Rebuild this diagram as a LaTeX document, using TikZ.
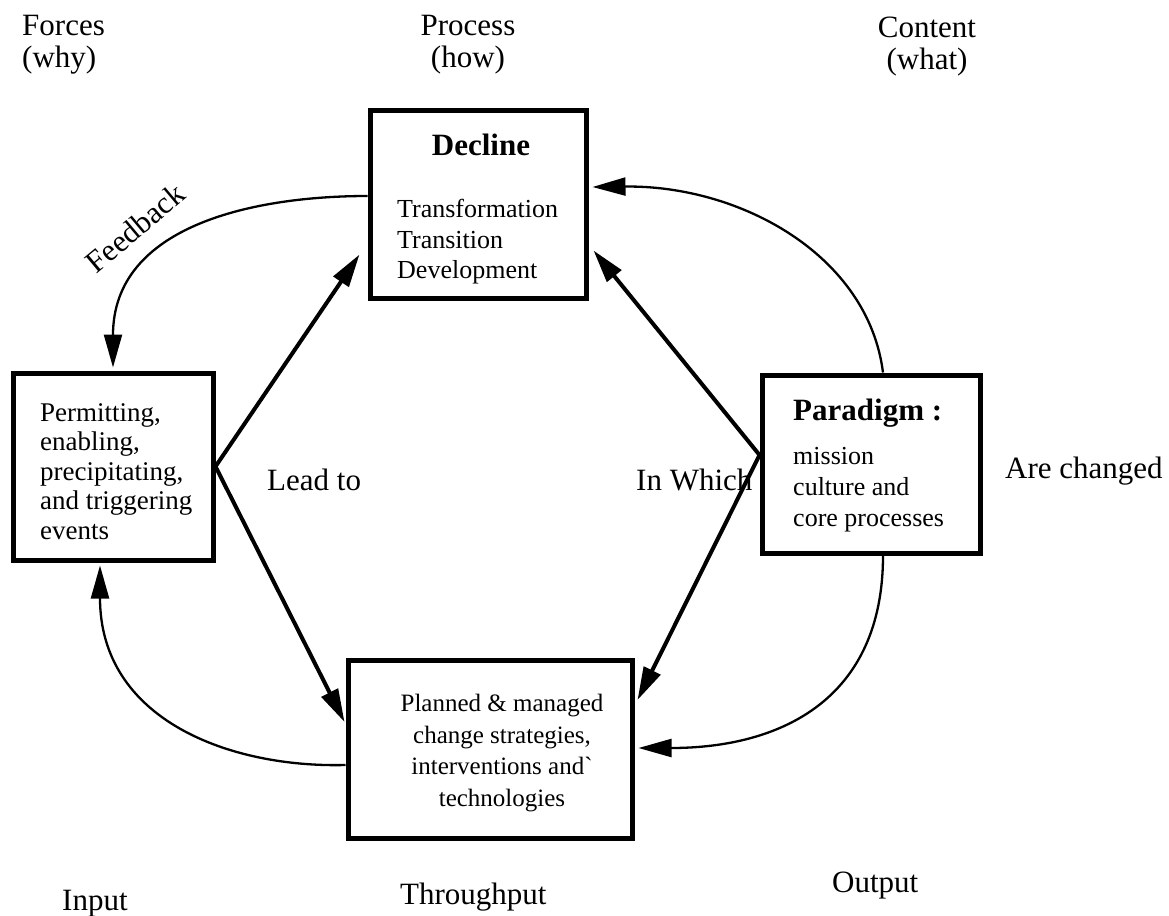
\documentclass[tikz,border=0pt]{standalone}
\usepackage{fontspec}
\setmainfont{Liberation Serif}
\usetikzlibrary{arrows.meta,calc}

\begin{document}
\begin{tikzpicture}[x=1pt,y=-1pt,
  box/.style={draw, line width=5pt, inner sep=0pt},
  boxtext/.style={inner sep=0pt, align=left},
  outertext/.style={inner sep=0pt, font=\fontsize{31}{32}\selectfont},
  mainarrow/.style={-{Triangle[length=33pt,width=18pt]}, line width=4pt},
  curvearrow/.style={-{Triangle[length=33pt,width=18pt]}, line width=2.3pt},
]
\useasboundingbox (0,0) rectangle (1169,915);

% boxes
\node[box, minimum width=216pt, minimum height=187pt] (decline) at (478,204.5) {};
\node[box, minimum width=200pt, minimum height=187pt] (events) at (113,466.5) {};
\node[box, minimum width=218pt, minimum height=178pt] (paradigm) at (871,464) {};
\node[box, minimum width=284pt, minimum height=178pt] (planned) at (490,749) {};

% box contents
\node[inner sep=0pt, anchor=north, font=\bfseries\fontsize{31}{36}\selectfont] (dtitle) at (481,134) {Decline};
\node[boxtext, anchor=north west, font=\fontsize{26}{30.5}\selectfont] (dlist) at (397,199) {Transformation\\Transition\\Development};
\node[boxtext, anchor=north west, font=\fontsize{27}{29.5}\selectfont] (elist) at (40,403) {Permitting,\\enabling,\\precipitating,\\and triggering\\events};
\node[inner sep=0pt, anchor=north west, font=\bfseries\fontsize{31}{36}\selectfont] (ptitle) at (793,399) {Paradigm :};
\node[boxtext, anchor=north west, font=\fontsize{26}{31}\selectfont] (plist) at (793,447) {mission\\culture and\\core processes};
\node[inner sep=0pt, align=center, anchor=north, font=\fontsize{25}{31.5}\selectfont] (mlist) at (502,694) {Planned \& managed\\change strategies,\\interventions and\textasciigrave\\technologies};

% column and row headings
\node[outertext, align=left, anchor=north west] (forces) at (22,15) {Forces\\(why)};
\node[outertext, align=center, anchor=north] (process) at (468,15) {Process\\(how)};
\node[outertext, align=center, anchor=north] (content) at (927,17) {Content\\(what)};
\node[outertext, anchor=north west] (input) at (62,890) {Input};
\node[outertext, anchor=north west] (throughput) at (400,883) {Throughput};
\node[outertext, anchor=north west] (output) at (832,872) {Output};

% connector labels
\node[outertext, anchor=base west] (leadto) at (267,490) {Lead to};
\node[outertext, anchor=base west] (inwhich) at (636,490) {In Which};
\node[outertext, anchor=base west] (arechanged) at (1005,478) {Are changed};
\node[outertext, rotate=40] (feedback) at (135,228) {Feedback};

% connector end points
\coordinate (apexL) at (events.east);
\coordinate (apexR) at ($(paradigm.west)+(0,-9)$);

% straight arrows
\draw[mainarrow] (apexL) -- ($(decline.west)+(-8,50)$);
\draw[mainarrow] (apexL) -- ($(planned.west)+(-1,-27)$);
\draw[mainarrow] (apexR) -- ($(decline.east)+(5,46)$);
\draw[mainarrow] (apexR) -- ($(planned.east)+(3,-49)$);

% curved feedback loops
\draw[curvearrow] ($(paradigm.north)+(12,0)$) .. controls (868,255) and (740,185) .. ($(decline.east)+(4,-17.5)$);
\draw[curvearrow] ($(paradigm.south)+(12,0)$) .. controls (883,700) and (780,748) .. ($(planned.east)+(4,-1)$);
\draw[curvearrow] ($(decline.west)+(0,-8.5)$) .. controls (255,196) and (113,225) .. ($(events.north)+(0,-3)$);
\draw[curvearrow] ($(planned.west)+(0,16)$) .. controls (230,768) and (100,720) .. ($(events.south)+(-13,3)$);
\end{tikzpicture}
\end{document}
